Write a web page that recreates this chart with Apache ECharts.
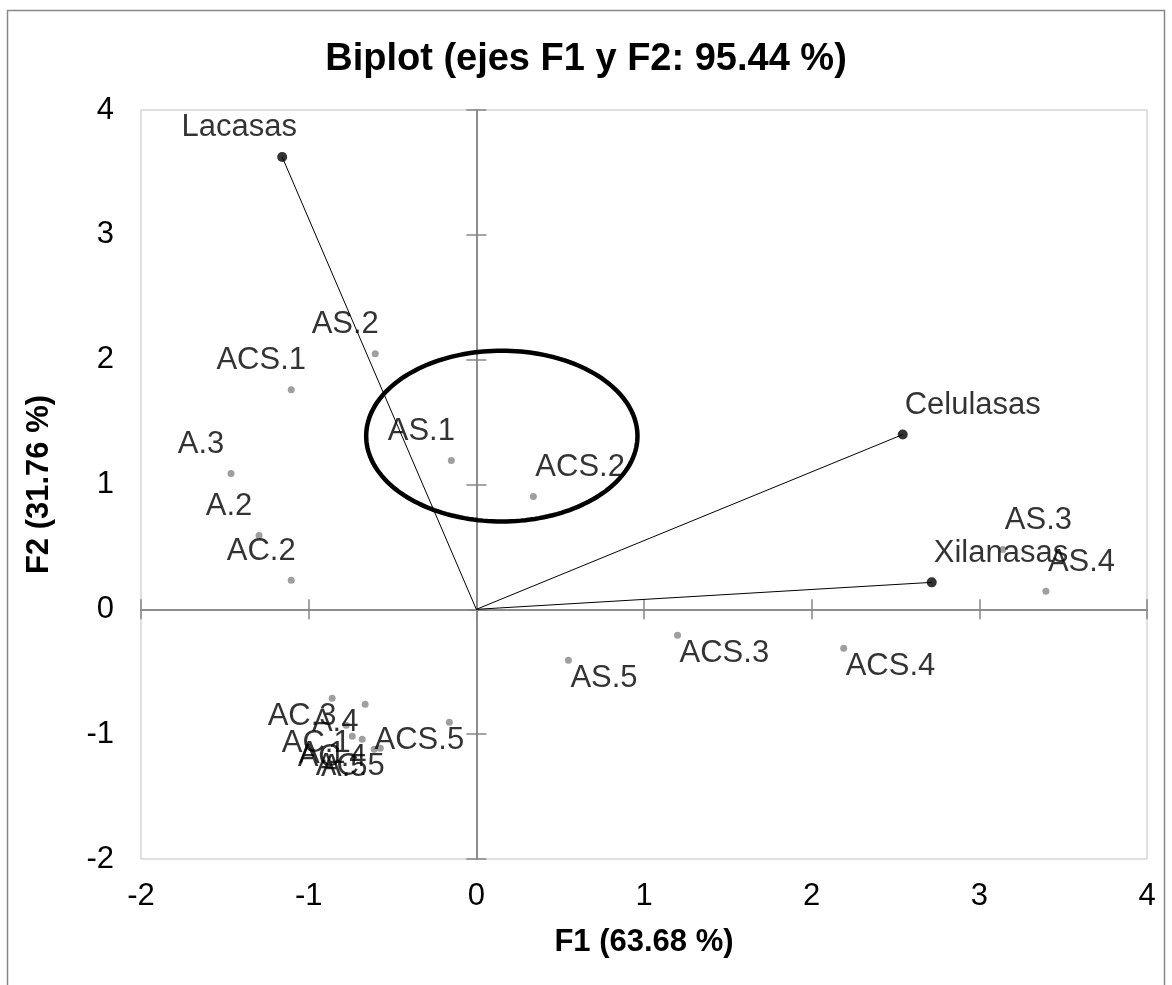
<!DOCTYPE html>
<html>
<head>
<meta charset="utf-8">
<script src="https://cdn.jsdelivr.net/npm/echarts@6/dist/echarts.min.js"></script>
<style>
  html, body { margin: 0; padding: 0; background: #fff; }
  #chart { width: 1172px; height: 985px; }
</style>
</head>
<body>
<div id="chart"></div>
<script>
// Variable loadings (vectors from the origin)
const variableNames = ['Lacasas', 'Celulasas', 'Xilanasas'];
const variableF1 = [-1.158, 2.543, 2.716];
const variableF2 = [3.624, 1.400, 0.216];

// Observation scores
const obsNames = ['A.1', 'A.2', 'A.3', 'A.4', 'A.5',
                  'AC.1', 'AC.2', 'AC.3', 'AC.4', 'AC.5',
                  'AS.1', 'AS.2', 'AS.3', 'AS.4', 'AS.5',
                  'ACS.1', 'ACS.2', 'ACS.3', 'ACS.4', 'ACS.5'];
const obsF1 = [-0.740, -1.296, -1.463, -0.663, -0.609,
               -0.776, -1.104, -0.860, -0.681, -0.573,
               -0.149, -0.603, 3.140, 3.397, 0.549,
               -1.104, 0.340, 1.200, 2.191, -0.161];
const obsF2 = [-1.016, 0.592, 1.088, -0.760, -1.120,
               -0.928, 0.232, -0.712, -1.040, -1.112,
               1.192, 2.048, 0.480, 0.144, -0.408,
               1.760, 0.904, -0.208, -0.312, -0.904];

// Axis ticks
const f1Ticks = [-2, -1, 0, 1, 2, 3, 4];
const f2Ticks = [-2, -1, 0, 1, 2, 3, 4];

// Highlighted group (ellipse centre and radii, in F1/F2 units)
const groupCenter = [0.152, 1.388];
const groupRadii = [0.809, 0.684];

const FONT = "'Liberation Sans', Arial, Helvetica, sans-serif";

// Where each label sits relative to its point: side and above/below
const labelRight = ['Celulasas', 'Xilanasas', 'AS.3', 'AS.4', 'ACS.2', 'ACS.3', 'AS.5', 'ACS.4'];
const labelBelow = ['ACS.3', 'AS.5', 'ACS.4', 'ACS.5', 'AC.3', 'A.4', 'AC.1', 'A.1', 'AC.4', 'A.5', 'AC.5'];
function labelFor(name) {
  const right = labelRight.includes(name);
  const dy = labelBelow.includes(name) ? 18 : -29;
  let dx = right ? 2 : -30;
  if (name === 'Lacasas') dx = -43;
  return {
    show: true,
    position: 'inside',
    align: right ? 'left' : 'center',
    verticalAlign: 'middle',
    offset: [dx, dy],
    formatter: name,
    color: '#000',
    fontSize: 31,
    fontFamily: FONT
  };
}

const variablePoints = variableNames.map((n, i) => ({
  name: n, value: [variableF1[i], variableF2[i]], label: labelFor(n)
}));
const obsPoints = obsNames.map((n, i) => ({
  name: n, value: [obsF1[i], obsF2[i]], label: labelFor(n)
}));

const axisGrey = '#868686';
const tickRange = (t) => ({ min: t[0], max: t[t.length - 1], interval: t[1] - t[0] });

// Axis set: one carries the tick labels along the plot edge, two more
// draw the zero line with ticks crossing it (one inward, one outward).
function makeAxes(ticks, labelMargin) {
  const base = Object.assign({ type: 'value', splitLine: { show: false } }, tickRange(ticks));
  const labelAxis = Object.assign({}, base, {
    axisLine: { show: false, onZero: false },
    axisTick: { show: false },
    axisLabel: { show: true, margin: labelMargin, color: '#000', fontSize: 31, fontFamily: FONT }
  });
  const zeroAxis = (inside) => Object.assign({}, base, {
    axisLine: { show: true, onZero: true, onZeroAxisIndex: 0, lineStyle: { color: axisGrey, width: 1.5 } },
    axisTick: { show: true, inside: inside, length: 10, lineStyle: { color: axisGrey, width: 1.5 } },
    axisLabel: { show: false }
  });
  return [labelAxis, zeroAxis(true), zeroAxis(false)];
}

const xAxes = makeAxes(f1Ticks, 22);
xAxes[0].name = 'F1 (63.68 %)';
xAxes[0].nameLocation = 'middle';
xAxes[0].nameGap = 68;
xAxes[0].nameTextStyle = { fontSize: 31, fontWeight: 'bold', color: '#000', fontFamily: FONT };

const yAxes = makeAxes(f2Ticks, 27);
yAxes[0].name = 'F2 (31.76 %)';
yAxes[0].nameLocation = 'middle';
yAxes[0].nameGap = 86;
yAxes[0].nameTextStyle = { fontSize: 31, fontWeight: 'bold', color: '#000', fontFamily: FONT };

const chart = echarts.init(document.getElementById('chart'), null, { renderer: 'canvas' });

chart.setOption({
  backgroundColor: '#fff',
  animation: false,
  title: {
    text: 'Biplot (ejes F1 y F2: 95.44 %)',
    left: 'center',
    top: 36,
    textStyle: { fontSize: 38, fontWeight: 'bold', color: '#000', fontFamily: FONT }
  },
  grid: {
    left: 141, top: 110, right: 25, bottom: 126,
    show: true, borderColor: '#bfbfbf', borderWidth: 1, backgroundColor: 'transparent'
  },
  graphic: [{
    type: 'rect',
    shape: { x: 7.5, y: 10.5, width: 1157, height: 1000 },
    style: { fill: 'none', stroke: '#888', lineWidth: 1.5 },
    silent: true, z: -1
  }],
  xAxis: xAxes,
  yAxis: yAxes,
  series: [
    {
      // loading vectors
      type: 'custom',
      silent: true,
      z: 2,
      data: variablePoints.map(p => p.value),
      renderItem: (params, api) => {
        const o = api.coord([0, 0]);
        const p = api.coord([api.value(0), api.value(1)]);
        return {
          type: 'line',
          shape: { x1: o[0], y1: o[1], x2: p[0], y2: p[1] },
          style: { stroke: '#000', lineWidth: 1 }
        };
      }
    },
    {
      // group outline
      type: 'custom',
      silent: true,
      z: 3,
      data: [groupCenter.concat(groupRadii)],
      encode: { x: 0, y: 1 },
      renderItem: (params, api) => {
        const cx = api.value(0), cy = api.value(1), rx = api.value(2), ry = api.value(3);
        const pts = [];
        for (let i = 0; i < 180; i++) {
          const t = 2 * Math.PI * i / 180;
          pts.push(api.coord([cx + rx * Math.cos(t), cy + ry * Math.sin(t)]));
        }
        return {
          type: 'polygon',
          shape: { points: pts },
          style: { fill: 'none', stroke: '#000', lineWidth: 4.5 }
        };
      }
    },
    {
      name: 'Observaciones',
      type: 'scatter',
      z: 4,
      symbol: 'circle',
      symbolSize: 7,
      itemStyle: { color: '#878787' },
      data: obsPoints
    },
    {
      name: 'Variables',
      type: 'scatter',
      z: 5,
      symbol: 'circle',
      symbolSize: 10,
      itemStyle: { color: '#000' },
      data: variablePoints
    }
  ]
});
</script>
</body>
</html>
